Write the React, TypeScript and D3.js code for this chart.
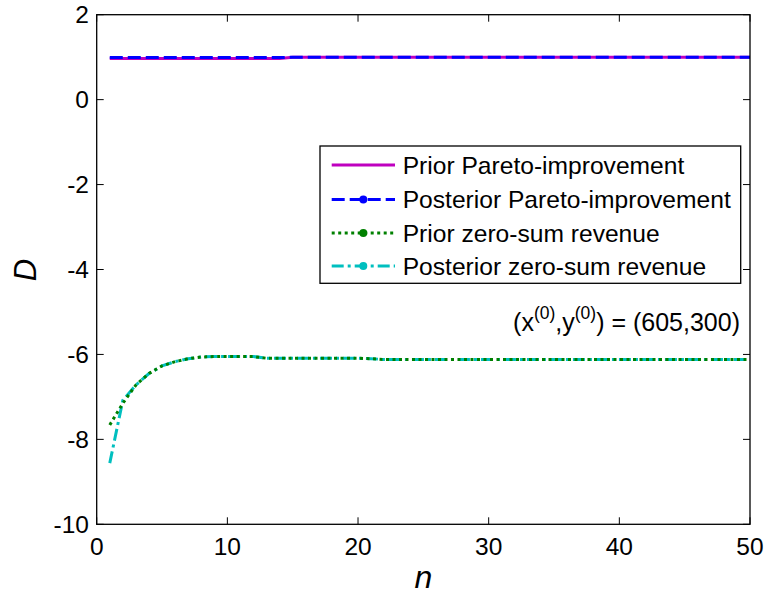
import React from "react";
import * as d3 from "d3";

const nValues: number[] = Array.from({ length: 50 }, (_, i) => i + 1);

const priorPareto: number[] = [
  0.97, 0.97, 0.97, 0.97, 0.97, 0.97, 0.97, 0.97, 0.97, 0.97,
  0.97, 0.97, 0.97, 0.97, 1.0, 1.0, 1.0, 1.0, 1.0, 1.0,
  1.0, 1.0, 1.0, 1.0, 1.0, 1.0, 1.0, 1.0, 1.0, 1.0,
  1.0, 1.0, 1.0, 1.0, 1.0, 1.0, 1.0, 1.0, 1.0, 1.0,
  1.0, 1.0, 1.0, 1.0, 1.0, 1.0, 1.0, 1.0, 1.0, 1.0,
];
const posteriorPareto: number[] = [
  0.99, 0.99, 0.99, 0.99, 0.99, 0.99, 0.99, 0.99, 0.99, 0.99,
  0.99, 0.99, 0.99, 0.99, 1.0, 1.0, 1.0, 1.0, 1.0, 1.0,
  1.0, 1.0, 1.0, 1.0, 1.0, 1.0, 1.0, 1.0, 1.0, 1.0,
  1.0, 1.0, 1.0, 1.0, 1.0, 1.0, 1.0, 1.0, 1.0, 1.0,
  1.0, 1.0, 1.0, 1.0, 1.0, 1.0, 1.0, 1.0, 1.0, 1.0,
];
const priorZeroSum: number[] = [
  -7.66, -7.15, -6.72, -6.45, -6.27, -6.17, -6.1, -6.06, -6.05, -6.05,
  -6.05, -6.05, -6.09, -6.09, -6.09, -6.09, -6.09, -6.09, -6.09, -6.09,
  -6.1, -6.12, -6.12, -6.12, -6.12, -6.12, -6.12, -6.12, -6.12, -6.12,
  -6.12, -6.12, -6.12, -6.12, -6.12, -6.12, -6.12, -6.12, -6.12, -6.12,
  -6.12, -6.12, -6.12, -6.12, -6.12, -6.12, -6.12, -6.12, -6.12, -6.12,
];
const posteriorZeroSum: number[] = [
  -8.56, -7.08, -6.72, -6.45, -6.27, -6.17, -6.1, -6.06, -6.05, -6.05,
  -6.05, -6.05, -6.09, -6.09, -6.09, -6.09, -6.09, -6.09, -6.09, -6.09,
  -6.1, -6.12, -6.12, -6.12, -6.12, -6.12, -6.12, -6.12, -6.12, -6.12,
  -6.12, -6.12, -6.12, -6.12, -6.12, -6.12, -6.12, -6.12, -6.12, -6.12,
  -6.12, -6.12, -6.12, -6.12, -6.12, -6.12, -6.12, -6.12, -6.12, -6.12,
];

const xTicks: number[] = [0, 10, 20, 30, 40, 50];
const yTicks: number[] = [2, 0, -2, -4, -6, -8, -10];
const legendLabels: string[] = [
  "Prior Pareto-improvement",
  "Posterior Pareto-improvement",
  "Prior zero-sum revenue",
  "Posterior zero-sum revenue",
];

const FONT = "'Liberation Sans', Arial, Helvetica, sans-serif";

export default function App() {
  const W = 767;
  const H = 600;
  const left = 96.7;
  const right = 750;
  const top = 14.7;
  const bottom = 524.3;

  const x = d3.scaleLinear().domain([0, 50]).range([left, right]);
  const y = d3.scaleLinear().domain([-10, 2]).range([bottom, top]);

  const line = d3
    .line<number>()
    .x((_, i) => x(nValues[i]))
    .y((d) => y(d));

  const series = [
    { data: priorPareto, color: "#BF00BF", dash: "none", marker: false },
    { data: posteriorPareto, color: "#0000FF", dash: "13 5", marker: true },
    { data: posteriorZeroSum, color: "#00BFBF", dash: "12 4 3 4", marker: true },
    { data: priorZeroSum, color: "#008000", dash: "3 3.5", marker: true },
  ];
  const legendSeries = [series[0], series[1], series[3], series[2]];

  const tickLen = 7;
  const legX = 320;
  const legY = 146;
  const legW = 420.7;
  const legH = 137.3;
  const rowYs = [165, 199.5, 233, 266];

  return (
    <svg
      width={W}
      height={H}
      style={{ position: "absolute", left: 0, top: 0, background: "#fff" }}
      fontFamily={FONT}
    >
      <rect x={0} y={0} width={W} height={H} fill="#fff" />
      <defs>
        <clipPath id="plotclip">
          <rect x={left} y={top} width={right - left} height={bottom - top} />
        </clipPath>
      </defs>

      {/* ticks */}
      {xTicks.map((t) => (
        <g key={"xt" + t}>
          <line x1={x(t)} x2={x(t)} y1={bottom} y2={bottom - tickLen} stroke="#000" strokeWidth={1} />
          <line x1={x(t)} x2={x(t)} y1={top} y2={top + tickLen} stroke="#000" strokeWidth={1} />
          <text x={x(t)} y={554.5} textAnchor="middle" fontSize={24.5} fill="#000">
            {t}
          </text>
        </g>
      ))}
      {yTicks.map((t) => (
        <g key={"yt" + t}>
          <line x1={left} x2={left + tickLen} y1={y(t)} y2={y(t)} stroke="#000" strokeWidth={1} />
          <line x1={right} x2={right - tickLen} y1={y(t)} y2={y(t)} stroke="#000" strokeWidth={1} />
          <text x={89} y={y(t) + 8.7} textAnchor="end" fontSize={24.5} fill="#000">
            {t}
          </text>
        </g>
      ))}

      {/* series */}
      <g clipPath="url(#plotclip)">
        {series.map((s, i) => (
          <path
            key={"s" + i}
            d={line(s.data) || ""}
            fill="none"
            stroke={s.color}
            strokeWidth={3}
            strokeDasharray={s.dash}
          />
        ))}
      </g>

      {/* axes box */}
      <rect
        x={left}
        y={top}
        width={right - left}
        height={bottom - top}
        fill="none"
        stroke="#000"
        strokeWidth={1.3}
      />

      {/* axis labels */}
      <text
        x={423.4}
        y={588}
        textAnchor="middle"
        fontSize={32}
        fontStyle="italic"
        fill="#000"
      >
        n
      </text>
      <text
        transform={`translate(36,270) rotate(-90)`}
        textAnchor="middle"
        fontSize={31}
        fontStyle="italic"
        fill="#000"
      >
        D
      </text>

      {/* annotation */}
      <text x={740} y={331} textAnchor="end" fontSize={25} fill="#000">
        <tspan>(x</tspan>
        <tspan fontSize={17.5} dy={-12}>(0)</tspan>
        <tspan dy={12}>,y</tspan>
        <tspan fontSize={17.5} dy={-12}>(0)</tspan>
        <tspan dy={12}>) = (605,300)</tspan>
      </text>

      {/* legend */}
      <rect x={legX} y={legY} width={legW} height={legH} fill="#fff" stroke="#000" strokeWidth={1.3} />
      {legendSeries.map((s, i) => (
        <g key={"lg" + i}>
          <line
            x1={331.7}
            x2={395}
            y1={rowYs[i]}
            y2={rowYs[i]}
            stroke={s.color}
            strokeWidth={3}
            strokeDasharray={s.dash}
          />
          {s.marker && <circle cx={363.3} cy={rowYs[i]} r={4} fill={s.color} />}
          <text x={402.7} y={rowYs[i] + 8.7} fontSize={24.6} fill="#000">
            {legendLabels[i]}
          </text>
        </g>
      ))}
    </svg>
  );
}
